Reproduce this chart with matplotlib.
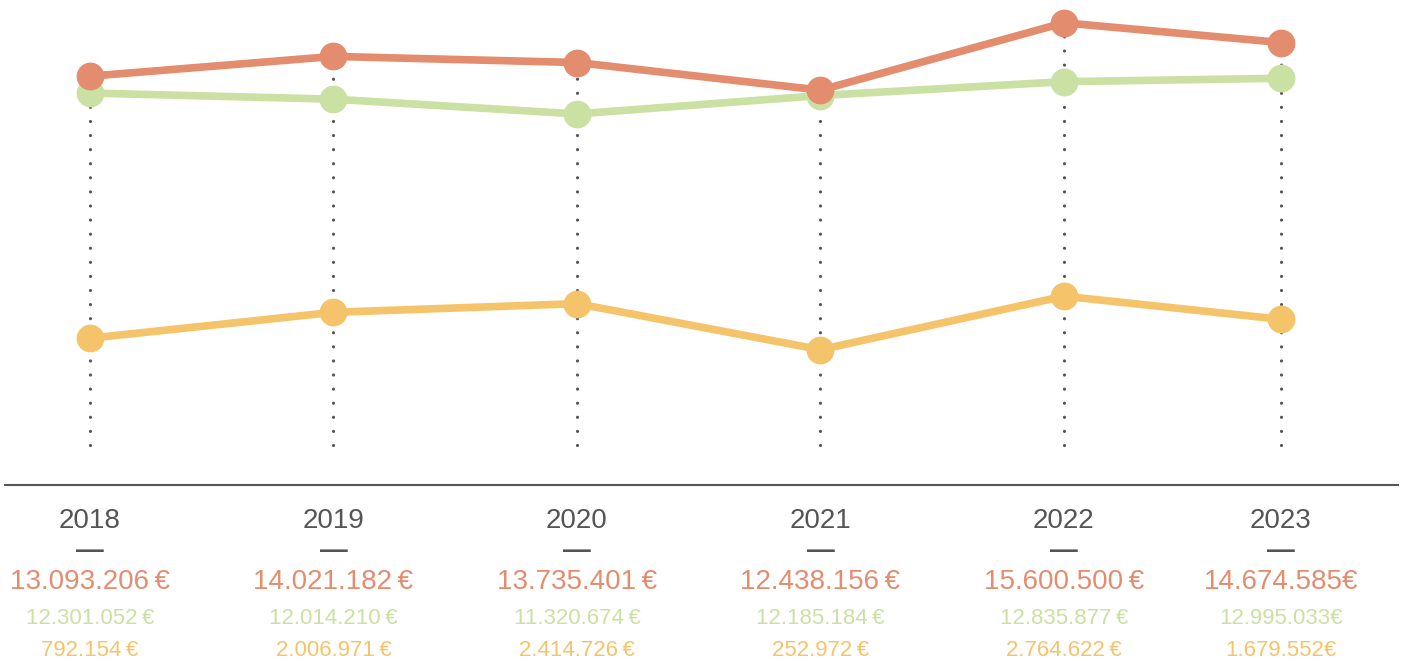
import matplotlib.pyplot as plt

plt.rcParams['font.family'] = ['Liberation Sans', 'DejaVu Sans']

years = ['2018', '2019', '2020', '2021', '2022', '2023']
red_vals = [13093206, 14021182, 13735401, 12438156, 15600500, 14674585]
green_vals = [12301052, 12014210, 11320674, 12185184, 12835877, 12995033]
yellow_vals = [792154, 2006971, 2414726, 252972, 2764622, 1679552]
red_labels = ['13.093.206\u2009€', '14.021.182\u2009€', '13.735.401\u2009€',
              '12.438.156\u2009€', '15.600.500\u2009€', '14.674.585€']
green_labels = ['12.301.052\u2009€', '12.014.210\u2009€', '11.320.674\u2009€',
                '12.185.184\u2009€', '12.835.877\u2009€', '12.995.033€']
yellow_labels = ['792.154\u2009€', '2.006.971\u2009€', '2.414.726\u2009€',
                 '252.972\u2009€', '2.764.622\u2009€', '1.679.552€']

# layout: slot positions of the years (last one sits a bit closer)
xpos = [0, 1, 2, 3, 4, 4.89]

RED = '#E48C6E'
GREEN = '#CBE0A3'
YELLOW = '#F5C46A'
GREY = '#555555'

W, H = 1408, 661
fig = plt.figure(figsize=(W / 100, H / 100), dpi=100)
ax = fig.add_axes([5 / W, (H - 485) / H, 1393 / W, 485 / H])

ax.set_xlim(-0.349, 5.372)
ax.set_ylim(-6.10e6, 16.67e6)

bottom = -4.23e6
for i, x in enumerate(xpos):
    top = max(red_vals[i], green_vals[i], yellow_vals[i])
    ax.plot([x, x], [bottom, top], color=GREY, lw=2.3, dashes=(0.01, 4.4),
            dash_capstyle='round', zorder=1)

for vals, col, z in [(yellow_vals, YELLOW, 3), (green_vals, GREEN, 4), (red_vals, RED, 5)]:
    ax.plot(xpos, vals, color=col, lw=5.5, marker='o', markersize=19,
            solid_capstyle='round', zorder=z)

for s in ['top', 'left', 'right']:
    ax.spines[s].set_visible(False)
ax.spines['bottom'].set_color(GREY)
ax.spines['bottom'].set_linewidth(1.5)
ax.set_xticks([])
ax.set_yticks([])

tr = ax.get_xaxis_transform()
rows = [
    (years, -36, 20, GREY, 'normal'),
    (['—'] * len(years), -66, 20, GREY, 'bold'),
    (red_labels, -97, 20, RED, 'normal'),
    (green_labels, -133, 16, GREEN, 'normal'),
    (yellow_labels, -166, 16, YELLOW, 'normal'),
]
for labels, off, fs, col, wt in rows:
    for x, lab in zip(xpos, labels):
        ax.annotate(lab, xy=(x, 0), xycoords=tr, xytext=(0, off * 0.72),
                    textcoords='offset points', ha='center', va='center',
                    fontsize=fs, color=col, fontweight=wt, annotation_clip=False)

fig.savefig('out.png', dpi=100)
